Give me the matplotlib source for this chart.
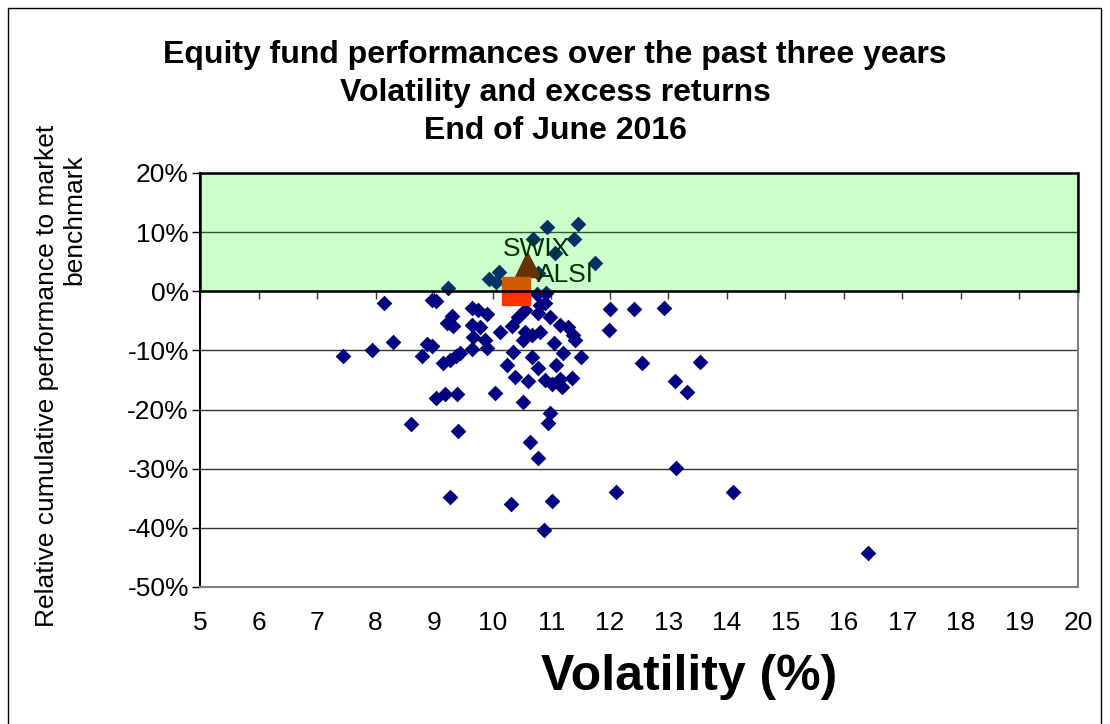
import matplotlib
matplotlib.use("Agg")
from matplotlib import pyplot as plt
from matplotlib.patches import Rectangle

plt.rcParams['font.family'] = ['Liberation Sans', 'DejaVu Sans']

# Funds: volatility (%) and relative cumulative performance (%)
vol_above = [11.45, 10.92, 11.39, 10.69, 11.07, 11.74, 10.78, 9.94, 10.11, 10.06, 9.24]
rel_above = [11.4, 10.9, 8.8, 8.8, 6.5, 4.8, 3.1, 2.1, 3.3, 1.6, 0.6]

vol_near = [10.76, 10.91, 10.81, 10.89,
            7.45, 7.94, 8.29, 8.14, 8.96, 9.04, 9.30, 9.22, 9.33, 8.87, 8.96, 8.79,
            9.16, 9.27, 9.38, 9.45]
rel_near = [-0.5, -0.3, -2.3, -2.0,
            -10.9, -9.9, -8.5, -1.9, -1.4, -1.7, -4.2, -5.3, -5.9, -8.9, -9.2, -11.0,
            -12.2, -11.6, -10.9, -10.4]

vol_mid = [9.64, 9.75, 9.90, 9.64, 9.79, 9.67, 9.87, 9.64, 9.90, 10.13,
           10.33, 10.43, 10.55, 10.78, 10.98, 10.55, 10.67, 10.81, 10.52, 11.15,
           11.29, 11.38, 11.41, 11.04, 10.35, 10.24, 10.67, 10.78, 11.09, 11.21,
           11.51, 10.38, 10.61, 10.89, 11.01, 11.15, 11.35, 11.18, 10.04, 10.52,
           10.98, 10.95]
rel_mid = [-2.9, -3.2, -3.8, -5.7, -6.0, -7.7, -8.2, -9.8, -9.6, -6.9,
           -5.9, -4.4, -3.2, -3.7, -4.3, -6.8, -7.4, -6.8, -8.2, -5.7,
           -6.0, -7.4, -8.2, -8.8, -10.2, -12.5, -11.1, -13.0, -12.5, -10.5,
           -11.1, -14.5, -15.2, -15.0, -15.6, -14.8, -14.7, -16.1, -17.2, -18.7,
           -20.6, -22.3]

vol_low = [9.19, 9.04, 9.39, 8.60, 9.40, 10.63, 10.78, 9.27, 10.31, 11.02, 10.88]
rel_low = [-17.3, -18.1, -17.4, -22.4, -23.7, -25.4, -28.2, -34.8, -35.9, -35.5, -40.4]

vol_right = [12.00, 12.42, 12.92, 11.99, 12.55, 13.55, 13.12, 13.32, 13.13, 12.11, 14.11, 16.42]
rel_right = [-3.0, -3.0, -2.8, -6.5, -12.2, -11.9, -15.2, -17.0, -29.8, -34.0, -34.0, -44.3]

funds_vol = vol_above + vol_near + vol_mid + vol_low + vol_right
funds_rel = rel_above + rel_near + rel_mid + rel_low + rel_right

# Benchmarks
swix_vol, swix_rel = 10.59, 4.6
alsi_vol, alsi_rel = 10.40, 0.0

xticks = list(range(5, 21))
yticks = [20, 10, 0, -10, -20, -30, -40, -50]
ytick_labels = ['20%', '10%', '0%', '-10%', '-20%', '-30%', '-40%', '-50%']

fig = plt.figure(figsize=(11.1, 7.24), dpi=100)
ax = fig.add_axes([200 / 1110, 1 - 587 / 724, 878 / 1110, 414 / 724])

ax.set_xlim(5, 20)
ax.set_ylim(-50, 20)

# gridlines
ax.set_yticks(yticks)
ax.set_yticklabels(ytick_labels, fontsize=19)
ax.yaxis.grid(True, color='#333333', lw=1)
ax.set_axisbelow(True)
ax.tick_params(axis='y', direction='out', length=6, width=1, pad=2, color='black')

ax.set_xticks(xticks)
ax.set_xticklabels([str(t) for t in xticks], fontsize=19)
ax.tick_params(axis='x', length=0, pad=17)

for s in ['bottom', 'right']:
    ax.spines[s].set_color('#808080')
    ax.spines[s].set_linewidth(1.5)
ax.spines['top'].set_visible(False)
ax.spines['left'].set_color('black')
ax.spines['left'].set_linewidth(1.5)

# horizontal axis crossing at 0%
sec = ax.secondary_xaxis((0 + 50) / 70)
sec.set_xticks(xticks)
sec.xaxis.set_ticks_position('bottom')
sec.tick_params(axis='x', direction='out', length=6, width=1, color='#333333',
                labelbottom=False, labeltop=False)
for s in sec.spines.values():
    s.set_visible(False)

ax.scatter(funds_vol, funds_rel, marker='D', s=8 ** 2, color='#000080', linewidths=0, zorder=3)

ax.plot([swix_vol], [swix_rel], marker='^', ms=18, color='#800000', ls='none', zorder=4)
ax.plot([alsi_vol], [alsi_rel], marker='s', ms=20, color='#ff3300', ls='none', zorder=4)

ax.annotate('SWIX', (swix_vol, swix_rel), xytext=(-24, 8), textcoords='offset pixels',
            fontsize=19, color='black', ha='left', va='baseline', zorder=5)
ax.annotate('ALSI', (alsi_vol, alsi_rel), xytext=(21, 9), textcoords='offset pixels',
            fontsize=19, color='black', ha='left', va='baseline', zorder=5)

# outperformance zone (translucent green on top)
ax.axhspan(0, 20, facecolor=(0, 1, 0, 0.2), edgecolor='black', lw=1.8, zorder=6, clip_on=False)

fig.text(0.5, 1 - 93 / 724,
         'Equity fund performances over the past three years\nVolatility and excess returns\nEnd of June 2016',
         ha='center', va='center', fontsize=23, fontweight='bold', linespacing=1.33)

fig.text(689 / 1110, 1 - 677 / 724, 'Volatility (%)', ha='center', va='center',
         fontsize=36, fontweight='bold')

fig.text(47 / 1110, 1 - 376 / 724, 'Relative cumulative performance to market',
         rotation=90, ha='center', va='center', fontsize=19)
fig.text(74 / 1110, 1 - 220 / 724, 'benchmark',
         rotation=90, ha='center', va='center', fontsize=19)

fig.patches.append(Rectangle((8 / 1110, -0.01), 1093 / 1110, 1 - 8 / 724 + 0.01,
                             transform=fig.transFigure, fill=False, edgecolor='black', lw=1))

fig.savefig('out.png', dpi=100)
